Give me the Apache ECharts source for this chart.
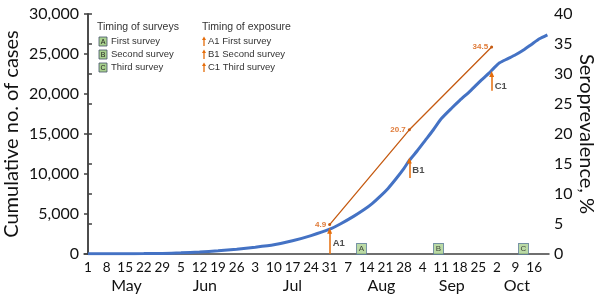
<!DOCTYPE html>
<html>
<head>
<meta charset="utf-8">
<script src="https://cdn.jsdelivr.net/npm/echarts@6/dist/echarts.min.js"></script>
<style>
  html, body { margin: 0; padding: 0; background: #fff; }
  #chart { width: 600px; height: 299px; }
</style>
</head>
<body>
<div id="chart"></div>
<script>
// days counted from 1 May
const caseDays = [0, 7, 14, 21, 28, 35, 42, 49, 56, 63, 70, 77, 84, 91, 95, 100, 104, 107, 110, 113, 116, 119, 121, 124, 127, 130, 133, 137, 140, 144, 148, 151, 153, 155, 158, 161, 164, 167, 170, 173]
const caseCounts = [20, 30, 40, 50, 70, 150, 250, 400, 600, 850, 1150, 1650, 2300, 3100, 3750, 4700, 5550, 6300, 7200, 8200, 9400, 10700, 11700, 12900, 14200, 15500, 16900, 18250, 19200, 20400, 21700, 22600, 23300, 23900, 24400, 24900, 25500, 26200, 26900, 27400]

const seroDays = [91, 121, 152]
const seroValues = [4.9, 20.7, 34.5]

const exposureNames = ['A1', 'B1', 'C1']
const exposureFrom = [0, 9500, 20400]
const exposureTo = [2900, 11700, 22500]
const exposureLabelY = [1375, 10500, 21000]

const surveyNames = ['A', 'B', 'C']
const surveyDays = [103, 132, 164]

const dayTicks = [0, 7, 14, 21, 28, 35, 42, 49, 56, 63, 70, 77, 84, 91, 98, 105, 112, 119, 126, 133, 140, 147, 154, 161, 168]
const dayTickLabels = ['1', '8', '15', '22', '29', '5', '12', '19', '26', '3', '10', '17', '24', '31', '7', '14', '21', '28', '4', '11', '18', '25', '2', '9', '16']
const monthNames = ['May', 'Jun', 'Jul', 'Aug', 'Sep', 'Oct']
const monthDays = [14.5, 44, 77, 110.5, 137, 161.5]

const blue = '#4472C4'
const orange = '#E46C0A'
const axisColor = '#404040'
const font = 'Lato, "Open Sans", sans-serif'

const chart = echarts.init(document.getElementById('chart'))

function legendBox(x, y, letter) {
  return [
    { type: 'rect', shape: { x, y, width: 8, height: 9 }, style: { fill: '#A9D18E', stroke: '#44546A', lineWidth: 0.8 } },
    { type: 'text', x: x + 4, y: y + 5, style: { text: letter, font: '7px Arial', fill: '#222', align: 'center', verticalAlign: 'middle' } },
  ]
}
function legendArrow(x, y) {
  return [
    { type: 'line', shape: { x1: x, y1: y + 9, x2: x, y2: y + 2 }, style: { stroke: orange, lineWidth: 1.3 } },
    { type: 'polygon', shape: { points: [[x - 2, y + 3], [x + 2, y + 3], [x, y - 0.5]] }, style: { fill: orange } },
  ]
}
function legendText(x, y, t, size) {
  return { type: 'text', x, y, style: { text: t, font: (size || 9.5) + 'px Arial, "Liberation Sans"', fill: '#333', verticalAlign: 'middle' } }
}

const graphics = [
  legendText(97, 27, 'Timing of surveys', 10.5),
  legendText(202, 27, 'Timing of exposure', 10.5),
  ...legendBox(99, 37, 'A'), legendText(111, 41.5, 'First survey'),
  ...legendBox(99, 50, 'B'), legendText(111, 54.5, 'Second survey'),
  ...legendBox(99, 63, 'C'), legendText(111, 67.5, 'Third survey'),
  ...legendArrow(204, 37), legendText(208, 41.5, 'A1 First survey'),
  ...legendArrow(204, 50), legendText(208, 54.5, 'B1 Second survey'),
  ...legendArrow(204, 63), legendText(208, 67.5, 'C1 Third survey'),
]

chart.setOption({
  animation: false,
  grid: { left: 84, right: 51, top: 14, bottom: 45, outerBoundsMode: 'none', containLabel: false },
  graphic: graphics,
  xAxis: [
    {
      type: 'value',
      min: -1.5,
      max: 173.6,
      axisLine: { lineStyle: { color: axisColor, width: 1.5 } },
      axisTick: { show: false },
      splitLine: { show: false },
      axisLabel: {
        customValues: dayTicks,
        formatter: v => dayTickLabels[dayTicks.indexOf(v)],
        fontFamily: font, fontSize: 13.5, color: '#111', margin: 7,
      },
    },
    {
      type: 'value',
      position: 'bottom',
      offset: 18,
      min: -1.5,
      max: 173.6,
      axisLine: { show: false },
      axisTick: { show: false },
      splitLine: { show: false },
      axisLabel: {
        customValues: monthDays,
        formatter: v => monthNames[monthDays.indexOf(v)],
        fontFamily: font, fontSize: 16, color: '#111', margin: 6,
      },
    },
  ],
  yAxis: [
    {
      type: 'value',
      min: 0, max: 30000, interval: 5000,
      name: 'Cumulative no. of cases',
      nameLocation: 'middle',
      nameGap: 62,
      nameMoveOverlap: false,
      nameTextStyle: { fontFamily: font, fontSize: 20, color: '#111' },
      axisLine: { show: true, lineStyle: { color: axisColor, width: 1.5 } },
      axisTick: { show: true, length: 4, lineStyle: { color: axisColor, width: 1.5 } },
      splitLine: { show: false },
      axisLabel: {
        fontFamily: font, fontSize: 16, color: '#111', margin: 5,
        formatter: v => v.toLocaleString('en-US'),
      },
    },
    {
      type: 'value',
      min: 0, max: 40, interval: 5,
      position: 'right',
      name: 'Seroprevalence, %',
      nameLocation: 'middle',
      nameRotate: -90,
      nameGap: 27,
      nameMoveOverlap: false,
      nameTextStyle: { fontFamily: font, fontSize: 20, color: '#111' },
      axisLine: { show: true, lineStyle: { color: axisColor, width: 1.5 } },
      axisTick: { show: true, length: 4, lineStyle: { color: axisColor, width: 1.5 } },
      splitLine: { show: false },
      axisLabel: { fontFamily: font, fontSize: 16, color: '#111', margin: 5 },
    },
  ],
  series: [
    {
      name: 'Cumulative cases',
      type: 'line',
      data: caseDays.map((d, i) => [d, caseCounts[i]]),
      smooth: 0.2,
      symbol: 'none',
      lineStyle: { color: blue, width: 3 },
      markLine: {
        silent: true,
        symbol: ['none', 'triangle'],
        symbolSize: [5, 6],
        label: { show: false },
        lineStyle: { color: orange, width: 1.5, type: 'solid' },
        data: exposureNames.map((n, i) => [
          { coord: [seroDays[i], exposureFrom[i]] },
          { coord: [seroDays[i], exposureTo[i]] },
        ]),
      },
    },
    {
      name: 'Exposure labels',
      type: 'scatter',
      symbolSize: 0,
      data: exposureNames.map((n, i) => ({ name: n, value: [seroDays[i], exposureLabelY[i]] })),
      label: {
        show: true, position: 'right', distance: 3, formatter: '{b}',
        fontFamily: 'Arial', fontWeight: 'bold', fontSize: 9.5, color: '#222',
      },
    },
    {
      name: 'Seroprevalence',
      type: 'line',
      yAxisIndex: 1,
      data: seroDays.map((d, i) => [d, seroValues[i]]),
      symbol: 'circle',
      symbolSize: 3,
      itemStyle: { color: '#C55A11' },
      lineStyle: { color: '#C55A11', width: 1.3 },
      label: {
        show: true, position: 'left', distance: 2,
        formatter: p => p.value[1].toFixed(1),
        fontFamily: 'Arial', fontWeight: 'bold', fontSize: 8, color: '#E07B39',
      },
    },
    {
      name: 'Surveys',
      type: 'scatter',
      yAxisIndex: 1,
      data: surveyNames.map((n, i) => ({ name: n, value: [surveyDays[i], 0.85] })),
      symbol: 'rect',
      symbolSize: [10, 11],
      itemStyle: { color: '#A9D18E', borderColor: '#5B7A99', borderWidth: 1 },
      label: {
        show: true, position: 'inside', formatter: '{b}',
        fontFamily: 'Arial', fontSize: 8, color: '#222',
      },
    },
  ],
})
</script>
</body>
</html>
